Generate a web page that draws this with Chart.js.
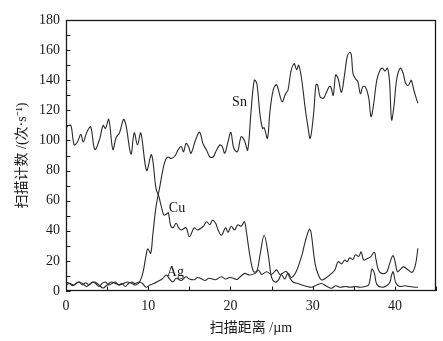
<!DOCTYPE html>
<html>
<head>
<meta charset="utf-8">
<script src="https://cdn.jsdelivr.net/npm/chart.js@4.4.1/dist/chart.umd.min.js"></script>
<style>
  html, body { margin: 0; padding: 0; background: #fff; }
  #wrap { width: 443px; height: 341px; }
</style>
</head>
<body>
<div id="wrap"><canvas id="c" width="443" height="341"></canvas></div>
<script>
// Line-scan counts along the scan path (µm)
const snX = [0, 0.5, 1.0, 1.5, 2.0, 2.5, 3.0, 3.5, 4.0, 4.5, 5.0, 5.5, 6.0, 6.5, 7.0, 7.5, 8.0, 8.5, 8.95, 9.35, 9.75, 9.95, 10.3, 10.55, 10.95, 11.4, 11.8, 12.1, 12.4, 12.8, 13.3, 13.6, 14.0, 14.3, 14.6, 14.9, 15.2, 15.8, 16.25, 16.65, 17.1, 17.5, 17.9, 18.3, 18.7, 19.0, 19.3, 19.7, 20.05, 20.4, 20.85, 21.3, 21.7, 22.1, 22.5, 22.9, 23.2, 23.6, 23.9, 24.1, 24.5, 24.8, 25.2, 25.6, 26.0, 26.3, 26.7, 27.0, 27.35, 27.75, 28.05, 28.3, 28.65, 29.1, 29.4, 29.7, 30.1, 30.4, 30.6, 30.9, 31.3, 31.6, 32.0, 32.2, 32.5, 32.8, 33.1, 33.5, 33.9, 34.2, 34.5, 34.7, 34.9, 35.2, 35.5, 35.8, 36.1, 36.4, 36.8, 37.1, 37.4, 37.8, 38.2, 38.5, 38.8, 39.1, 39.35, 39.6, 39.9, 40.2, 40.65, 41.0, 41.3, 41.6, 41.8, 42.0, 42.3, 42.6, 42.8];
const snY = [6, 5, 4, 6, 5, 3, 5, 6, 4, 2, 4, 6, 5, 4, 5, 6, 5, 4, 6, 12, 24, 28, 25, 37, 56, 69, 81, 87, 89, 88, 90, 93.5, 96, 92.5, 98, 96, 91.5, 101, 105.5, 98, 93.5, 89, 89, 93.5, 97, 96, 91.5, 99, 105.4, 95, 92.5, 102.5, 100, 93.6, 119, 140, 138, 117, 108, 108.5, 101.4, 119, 133.5, 137, 130, 125.7, 131, 133.5, 145.7, 151, 147, 150, 141, 121, 110, 101.4, 117, 137, 137, 129, 128, 131, 135.7, 135.7, 130, 143.5, 141, 132, 144.6, 155.6, 158.5, 157, 144.6, 141, 139, 131, 135.7, 135.7, 129, 115.8, 123.5, 140, 146.8, 148, 146, 148, 139, 113.6, 123.5, 140, 148, 144.6, 138, 136.5, 138, 140, 133.5, 128, 124.7];

const cuX = [0, 0.3, 0.6, 1.0, 1.4, 1.8, 2.1, 2.5, 3.0, 3.5, 4.1, 4.5, 4.8, 5.2, 5.7, 6.1, 6.5, 7.0, 7.3, 7.9, 8.3, 8.7, 9.1, 9.8, 10.4, 10.95, 11.3, 11.6, 11.9, 12.2, 12.45, 12.7, 13.0, 13.4, 13.7, 14.0, 14.6, 15.0, 15.6, 16.0, 16.7, 17.1, 17.5, 17.8, 18.2, 18.5, 18.9, 19.4, 19.7, 20.1, 20.5, 20.9, 21.3, 21.7, 21.95, 22.35, 22.8, 23.2, 23.6, 24.1, 24.6, 25.0, 25.4, 25.8, 26.2, 26.6, 27.0, 27.4, 28.0, 28.7, 29.1, 29.6, 29.8, 30.3, 30.7, 31.1, 31.7, 32.3, 32.7, 33.1, 33.5, 33.9, 34.2, 34.5, 34.9, 35.2, 35.6, 35.9, 36.2, 36.6, 37.0, 37.5, 37.7, 38.0, 38.4, 39.0, 39.35, 39.75, 40.0, 40.3, 40.7, 41.05, 41.5, 42.1, 42.5, 42.8];
const cuY = [108, 110, 110, 97, 99, 104, 99, 105, 109, 94, 101, 110, 108, 114, 94, 102, 105, 114, 110, 91, 105, 97, 105, 80, 90.5, 68, 62.6, 56, 50.5, 51, 52, 44, 42, 45, 42, 40.5, 42, 36, 42, 40.5, 43, 46, 44, 47, 45, 40.5, 37, 42, 39, 43, 40.5, 44, 43, 46, 39, 24, 13, 13, 24, 37, 24, 9, 6, 7, 11, 8, 12, 9, 13, 24, 33, 41, 39, 18, 10.6, 7.3, 9, 11.7, 14, 19.5, 18, 20.6, 19.5, 22, 21, 24, 23, 26, 20.6, 21.5, 22.5, 25.7, 21, 14, 11.7, 12.5, 18, 23.5, 20, 12.8, 14.5, 16, 14.5, 12.4, 17.3, 28.4];

const agX = [0, 0.4, 0.8, 1.2, 1.6, 2.0, 2.4, 2.8, 3.2, 3.6, 4.0, 4.4, 4.8, 5.2, 5.6, 6.0, 6.4, 6.8, 7.2, 7.6, 8.0, 8.4, 8.9, 9.3, 9.75, 10.2, 10.7, 11.2, 11.7, 12.2, 12.6, 13.0, 13.4, 14.0, 14.6, 15.0, 15.6, 16.0, 16.5, 16.9, 17.4, 18.2, 18.9, 19.4, 19.9, 20.4, 20.8, 21.3, 21.75, 22.3, 23.0, 23.4, 23.8, 24.4, 25.0, 25.6, 26.0, 26.4, 26.8, 27.2, 27.6, 28.2, 28.7, 29.3, 29.9, 30.5, 31.1, 31.6, 32.3, 32.8, 33.3, 34.0, 34.6, 35.2, 35.8, 36.4, 36.8, 37.0, 37.2, 37.5, 37.8, 38.4, 39.0, 39.4, 39.6, 39.8, 40.1, 40.6, 41.2, 41.8, 42.4, 42.8];
const agY = [4, 5, 3.5, 5, 6, 4, 5.5, 4, 6, 5, 3, 5, 6, 4, 5, 6, 4, 5, 3, 5, 6, 5, 6, 5, 2.5, 4, 5, 6.5, 8, 10.6, 8, 6, 8.5, 7, 9.5, 8, 7.5, 9, 8, 7, 8.5, 7.5, 9.5, 8, 9, 8.4, 7.7, 10, 11.7, 10.6, 11.7, 14, 11, 12.8, 11, 14, 11, 12, 13, 9, 6, 5, 4, 3, 2.5, 4, 5, 3.5, 1.8, 3.5, 2.5, 3, 2.5, 3, 2.5, 3, 4, 8.4, 14.5, 12, 4.4, 2.5, 3.5, 6, 10.6, 12.8, 5.5, 3, 3.5, 3, 2.5, 2.5];

// Series names placed beside their curves (data coordinates)
const seriesNames = ['Sn', 'Cu', 'Ag'];
const nameX = [21.1, 13.5, 13.3];
const nameY = [125.5, 55, 12.5];

const xTitle = '扫描距离 /µm';
const yTitle = '扫描计数 /(次·s⁻¹)';

const pts = (xs, ys) => xs.map((v, i) => ({ x: v, y: ys[i] }));

const serif = "'Liberation Serif', 'Noto Sans CJK SC', serif";
const ink = '#1a1a1a';
const lineInk = '#2b2b2b';

// Frame around the plot with short inward tick marks on the bottom and left axes
const framePlugin = {
  id: 'frame',
  afterDraw(chart) {
    const { ctx, chartArea: a, scales: { x, y } } = chart;
    ctx.save();
    ctx.strokeStyle = ink;
    ctx.lineWidth = 1.3;
    ctx.strokeRect(Math.round(a.left) + 0.5, Math.round(a.top) + 0.5,
      Math.round(a.right - a.left) - 1, Math.round(a.bottom - a.top) - 1);
    ctx.lineWidth = 1;
    ctx.beginPath();
    x.ticks.forEach(t => {
      const px = Math.round(x.getPixelForValue(t.value)) + 0.5;
      ctx.moveTo(px, a.bottom);
      ctx.lineTo(px, a.bottom - 4.5);
    });
    y.ticks.forEach(t => {
      const py = Math.round(y.getPixelForValue(t.value)) + 0.5;
      ctx.moveTo(a.left, py);
      ctx.lineTo(a.left + 4.5, py);
    });
    ctx.stroke();
    // curve names
    ctx.fillStyle = ink;
    ctx.font = '14px ' + serif;
    ctx.textAlign = 'center';
    ctx.textBaseline = 'middle';
    seriesNames.forEach((n, i) => {
      ctx.fillText(n, x.getPixelForValue(nameX[i]), y.getPixelForValue(nameY[i]));
    });
    ctx.restore();
  }
};

const ds = (label, data) => ({
  label, data,
  borderColor: lineInk,
  borderWidth: 1.1,
  pointRadius: 0,
  tension: 0.35,
  fill: false
});

new Chart(document.getElementById('c'), {
  type: 'line',
  data: {
    datasets: [
      ds('Sn', pts(snX, snY)),
      ds('Cu', pts(cuX, cuY)),
      ds('Ag', pts(agX, agY))
    ]
  },
  options: {
    responsive: false,
    animation: false,
    devicePixelRatio: 1,
    layout: { padding: { left: 0, right: 7, top: 20, bottom: 0 } },
    plugins: { legend: { display: false }, tooltip: { enabled: false } },
    scales: {
      x: {
        type: 'linear',
        min: 0, max: 45,
        afterFit: s => { s.height = 50; },
        grid: { display: false, drawTicks: false },
        border: { display: false },
        ticks: {
          stepSize: 5,
          autoSkip: false,
          maxRotation: 0,
          padding: 7,
          color: ink,
          font: { family: serif, size: 14 },
          callback: v => (v % 10 === 0 && v <= 40) ? String(v) : ''
        },
        title: {
          display: true,
          text: xTitle,
          color: ink,
          font: { family: serif, size: 14 },
          padding: { top: 0, bottom: 4 }
        }
      },
      y: {
        min: 0, max: 180,
        afterFit: s => { s.width = 66; },
        grid: { display: false, drawTicks: false },
        border: { display: false },
        ticks: {
          stepSize: 10,
          autoSkip: false,
          padding: 6,
          color: ink,
          font: { family: serif, size: 14 },
          callback: v => (v % 20 === 0) ? String(v) : ''
        },
        title: {
          display: true,
          text: yTitle,
          color: ink,
          font: { family: serif, size: 14 },
          padding: { top: 14, bottom: 0 }
        }
      }
    }
  },
  plugins: [framePlugin]
});
</script>
</body>
</html>
